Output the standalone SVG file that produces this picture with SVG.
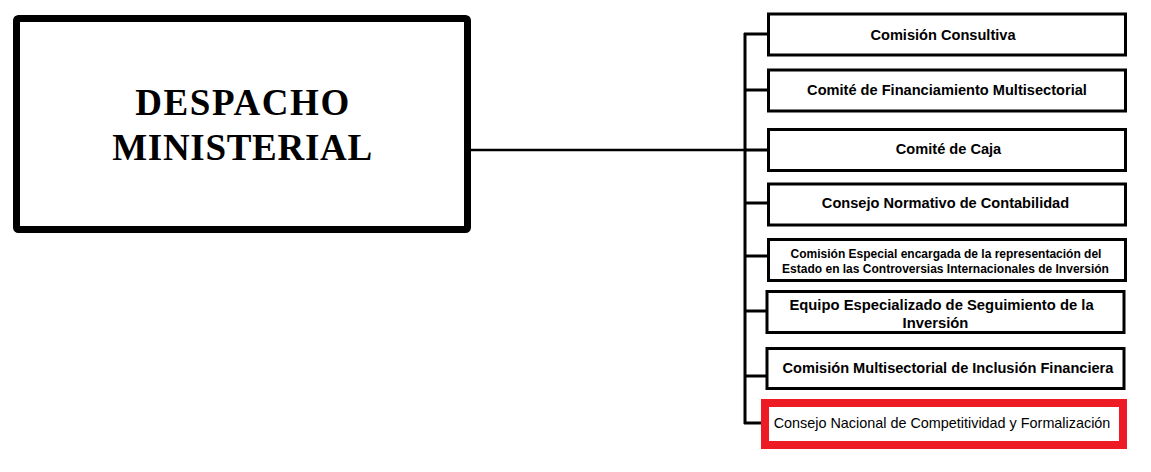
<svg xmlns="http://www.w3.org/2000/svg" width="1151" height="472" viewBox="0 0 1151 472">
<style>
.box{fill:#fff;stroke:#000;stroke-width:3}
.t{font-family:"Liberation Sans",Arial,sans-serif;font-weight:bold;font-size:14.6px;fill:#000;text-anchor:middle}
.s{font-size:12px}
.m{font-size:14.8px}
.r{font-weight:normal;font-size:14.4px}
.c{fill:none;stroke:#000;stroke-width:3}
.h{font-family:"Liberation Serif","Times New Roman",serif;font-weight:bold;font-size:37px;text-anchor:middle;fill:#000}
</style>
<rect width="1151" height="472" fill="#fff"/>
<g id="connectors">
<line class="c" x1="471" y1="150" x2="745" y2="150" style="stroke-width:2.5"/>
<line class="c" x1="745" y1="33" x2="745" y2="424"/>
<line class="c" x1="744" y1="34" x2="768" y2="34"/>
<line class="c" x1="744" y1="90" x2="768" y2="90"/>
<line class="c" x1="744" y1="150" x2="768" y2="150"/>
<line class="c" x1="744" y1="203" x2="768" y2="203"/>
<line class="c" x1="744" y1="256" x2="768" y2="256"/>
<line class="c" x1="744" y1="311" x2="766" y2="311"/>
<line class="c" x1="744" y1="376" x2="766" y2="376"/>
<line class="c" x1="744" y1="423" x2="762" y2="423"/>
</g>
<g id="despacho">
<rect x="16.5" y="18.5" width="451" height="211" rx="2" fill="#fff" stroke="#000" stroke-width="7"/>
<text class="h" x="243" y="115" style="letter-spacing:1.6px">DESPACHO</text>
<text class="h" x="242.5" y="160" style="letter-spacing:0.7px">MINISTERIAL</text>
</g>
<g id="n1"><rect class="box" x="768.5" y="14" width="357" height="41"/><text class="t" x="943" y="39.5">Comisión Consultiva</text></g>
<g id="n2"><rect class="box" x="768.5" y="70" width="357" height="41"/><text class="t" x="947" y="94.5">Comité de Financiamiento Multisectorial</text></g>
<g id="n3"><rect class="box" x="768.5" y="129.5" width="357" height="41"/><text class="t" x="948.5" y="154">Comité de Caja</text></g>
<g id="n4"><rect class="box" x="768.5" y="184" width="357" height="41"/><text class="t" x="945.5" y="207.5">Consejo Normativo de Contabilidad</text></g>
<g id="n5"><rect class="box" x="768.5" y="239.5" width="357" height="41"/>
<text class="t s" x="946" y="257.5">Comisión Especial encargada de la representación del</text>
<text class="t s" x="945.5" y="272.5">Estado en las Controversias Internacionales de Inversión</text></g>
<g id="n6"><rect class="box" x="767" y="291.5" width="357" height="41"/>
<text class="t m" x="941.5" y="310">Equipo Especializado de Seguimiento de la</text>
<text class="t m" x="935.5" y="327.5">Inversión</text></g>
<g id="n7"><rect class="box" x="767" y="348.5" width="357" height="40"/><text class="t" x="948" y="372.5">Comisión Multisectorial de Inclusión Financiera</text></g>
<g id="n8"><rect x="765" y="403" width="358" height="42" fill="#fff" stroke="#ED1C24" stroke-width="8"/><text class="t r" x="942" y="427.5">Consejo Nacional de Competitividad y Formalización</text></g>
</svg>
